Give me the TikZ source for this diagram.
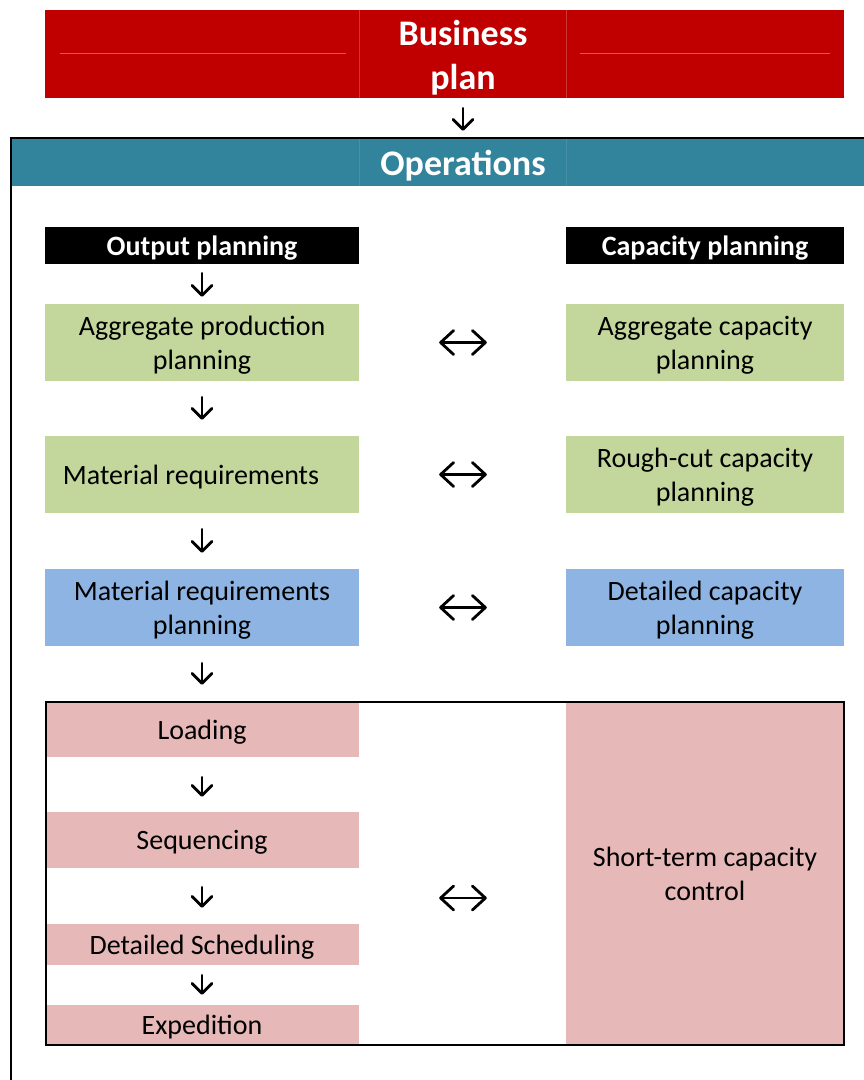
\documentclass[tikz,border=0pt]{standalone}
\usepackage{fontspec}
\setmainfont{Carlito}
\usetikzlibrary{arrows.meta}
\definecolor{planred}{HTML}{C00000}
\definecolor{gridred}{HTML}{D65A5A}
\definecolor{opsteal}{HTML}{31849B}
\definecolor{gridteal}{HTML}{4690A5}
\definecolor{sagegreen}{HTML}{C3D69B}
\definecolor{skyblue}{HTML}{8DB4E2}
\definecolor{rosepink}{HTML}{E6B9B8}

\begin{document}
\begin{tikzpicture}[x=1pt,y=-1pt,
  body/.style={font=\fontsize{28}{34}\selectfont},
  title/.style={font=\fontsize{36}{44}\selectfont\bfseries, text=white, text depth=0pt},
  block/.style={rectangle, inner sep=0pt, align=center, body, text depth=0pt},
  leftblock/.style={block, minimum width=314pt},
  rightblock/.style={block, minimum width=278pt},
  tall/.style={minimum height=77pt},
  head/.style={fill=black, text=white, minimum height=37pt,
    font=\fontsize{28}{34}\selectfont\bfseries},
  stage/.style={leftblock, fill=rosepink},
  downarrow/.style={line width=2.8pt, line cap=round,
    -{Straight Barb[length=10pt,width=20pt,round]}},
  bothways/.style={line width=2.8pt, line cap=round,
    {Straight Barb[length=13pt,width=24pt,round]}-{Straight Barb[length=13pt,width=24pt,round]},
    shorten <=80pt, shorten >=79pt},
]
\useasboundingbox (0,0) rectangle (864,1080);
\clip (0,0) rectangle (864,1080);

% Business plan banner
\node[rectangle, fill=planred, minimum width=799pt, minimum height=88pt, inner sep=0pt]
  (biz) at (444.5,54) {};
\draw[gridred, line width=0.8pt] (60,53.5) -- (346,53.5) (580,53.5) -- (830,53.5);
\draw[gridred!60!planred, line width=0.4pt] (359,10) -- (359,98) (566,10) -- (566,98);
\node[title, align=center, inner sep=0pt] (biztext) at (463,55) {Business\\plan};

% Operations band and its frame
\node[rectangle, fill=opsteal, minimum width=902pt, minimum height=47pt, inner sep=0pt, title]
  (ops) at (463,162.5) {Operations};
\draw[gridteal, line width=0.4pt] (359,139) -- (359,186) (566,139) -- (566,186);
\draw[line width=2pt] (11,1100) -- (11,138) -- (900,138);

\draw[downarrow, shorten <=10pt, shorten >=8pt] (biz.south -| ops.north) -- (ops.north);

% Column headers
\node[leftblock, head] (outp) at (202,245.5) {Output planning};
\node[rightblock, head] (capp) at (705,245.5) {Capacity planning};

% Planning levels
\node[leftblock, tall, fill=sagegreen] (agg) at (202,342.5) {Aggregate production\\planning};
\node[rightblock, tall, fill=sagegreen] (aggc) at (705,342.5) {Aggregate capacity\\planning};
\node[leftblock, tall, fill=sagegreen] (mat) at (202,474.5) {Material requirements\kern22pt};
\node[rightblock, tall, fill=sagegreen] (rough) at (705,474.5) {Rough-cut capacity\\planning};
\node[leftblock, tall, fill=skyblue] (mrp) at (202,607.5) {Material requirements\\planning};
\node[rightblock, tall, fill=skyblue] (det) at (705,607.5) {Detailed capacity\\planning};

% Shop-floor control stages
\node[stage, minimum height=55pt] (load) at (202,729.5) {Loading};
\node[stage, minimum height=56pt] (seq) at (202,840) {Sequencing};
\node[stage, minimum height=41pt] (sched) at (202,944.5) {Detailed Scheduling};
\node[stage, minimum height=40pt] (exp) at (202,1025) {Expedition};
\node[rightblock, fill=rosepink, minimum height=343pt] (short) at (705,873.5)
  {Short-term capacity\\control};
\draw[line width=2pt] (45.5,702) rectangle (844,1045);

% Downward flow
\draw[downarrow, shorten <=9pt, shorten >=7pt] (outp.south) -- (agg.north);
\draw[downarrow, shorten <=16pt, shorten >=16pt] (agg.south) -- (mat.north);
\draw[downarrow, shorten <=16pt, shorten >=16pt] (mat.south) -- (mrp.north);
\draw[downarrow, shorten <=17pt, shorten >=17pt] (mrp.south) -- (load.north);
\draw[downarrow, shorten <=20pt, shorten >=15pt] (load.south) -- (seq.north);
\draw[downarrow, shorten <=19pt, shorten >=16pt] (seq.south) -- (sched.north);
\draw[downarrow, shorten <=10pt, shorten >=10pt] (sched.south) -- (exp.north);

% Output / capacity links
\draw[bothways] (agg.east) -- (aggc.west);
\draw[bothways] (mat.east) -- (rough.west);
\draw[bothways] (mrp.east) -- (det.west);
\coordinate (stagemid) at (463,898);
\draw[bothways] (stagemid -| load.east) -- (stagemid -| short.west);
\end{tikzpicture}
\end{document}
